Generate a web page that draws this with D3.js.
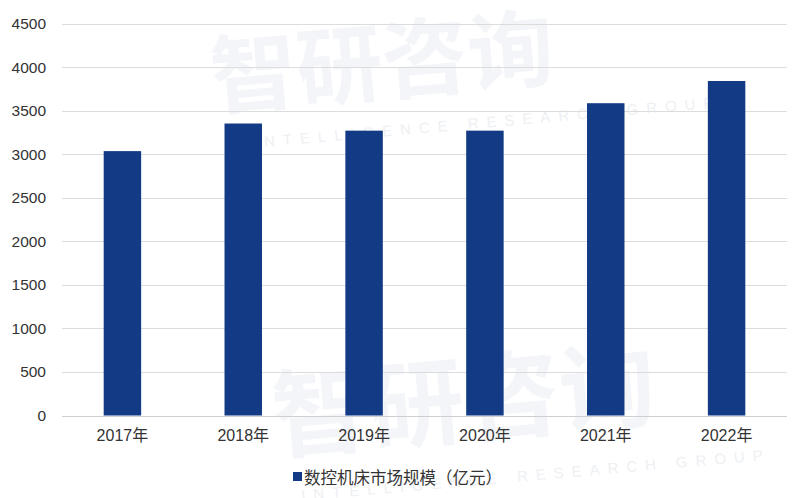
<!DOCTYPE html>
<html><head><meta charset="utf-8">
<script src="https://cdn.jsdelivr.net/npm/d3@7"></script>
<style>body{margin:0;background:#fff}svg{display:block}</style>
</head><body><div id="c"></div>
<script>
const categories = ["2017年","2018年","2019年","2020年","2021年","2022年"];
const values = [3035, 3352, 3270, 3270, 3585, 3840];
const yTicks = [0,500,1000,1500,2000,2500,3000,3500,4000,4500];
const seriesName = "数控机床市场规模（亿元）";

const W = 799, H = 498;
const svg = d3.select("#c").append("svg").attr("width", W).attr("height", H);
const font = "'Liberation Sans', Arial, 'Noto Sans CJK SC', sans-serif";

// faint watermark
const wm = svg.append("g").attr("fill", "#f3f5f8").attr("font-family", "'Noto Sans CJK SC', sans-serif").attr("font-weight", "bold");
wm.append("text").attr("x", 210).attr("y", 92).attr("font-size", 86).attr("transform", "rotate(-5 400 60)").text("智研咨询");
wm.append("text").attr("x", 270).attr("y", 432).attr("font-size", 96).attr("transform", "rotate(-5 500 380)").text("智研咨询");
const wm2 = svg.append("g").attr("fill", "#eef0f3").attr("font-family", font).attr("font-size", 15).attr("letter-spacing", 8);
wm2.append("text").attr("x", 250).attr("y", 128).attr("transform", "rotate(-5 480 110)").text("INTELLIGENCE RESEARCH GROUP");
wm2.append("text").attr("x", 300).attr("y", 478).attr("transform", "rotate(-5 560 470)").text("INTELLIGENCE RESEARCH GROUP");

const x = d3.scaleBand().domain(categories).range([62, 787]).paddingInner(0.69).paddingOuter(0.345);
const y = d3.scaleLinear().domain([0, 4500]).range([415.5, 23.5]);

// gridlines
svg.append("g").selectAll("line").data(yTicks).join("line")
  .attr("x1", 62).attr("x2", 787)
  .attr("y1", d => Math.round(y(d)) + 0.5).attr("y2", d => Math.round(y(d)) + 0.5)
  .attr("stroke", d => d === 0 ? "#cfcfcf" : "#dcdcdc").attr("stroke-width", 1);

// y axis labels
const ya = svg.append("g").attr("transform", "translate(46,0)")
  .call(d3.axisLeft(y).tickValues(yTicks).tickSize(0).tickPadding(0).tickFormat(d3.format("d")));
ya.select(".domain").remove();
ya.selectAll("text").attr("font-family", font).attr("font-size", 15.5).attr("fill", "#333");

// bars
svg.append("g").selectAll("rect").data(values).join("rect")
  .attr("x", (d, i) => x(categories[i]))
  .attr("width", x.bandwidth())
  .attr("y", d => y(d))
  .attr("height", d => y(0) - y(d))
  .attr("fill", "#123a85");

// x axis labels
const xa = svg.append("g").attr("transform", "translate(0,415.5)")
  .call(d3.axisBottom(x).tickSize(0).tickPadding(14));
xa.select(".domain").remove();
xa.selectAll("text").attr("font-family", font).attr("font-size", 16).attr("fill", "#333");

// legend
const lg = svg.append("g");
lg.append("rect").attr("x", 293).attr("y", 472).attr("width", 9).attr("height", 9).attr("fill", "#123a85");
lg.append("text").attr("x", 304).attr("y", 483.5).attr("font-family", font).attr("font-size", 16.5).attr("fill", "#333").text(seriesName);
</script></body></html>
